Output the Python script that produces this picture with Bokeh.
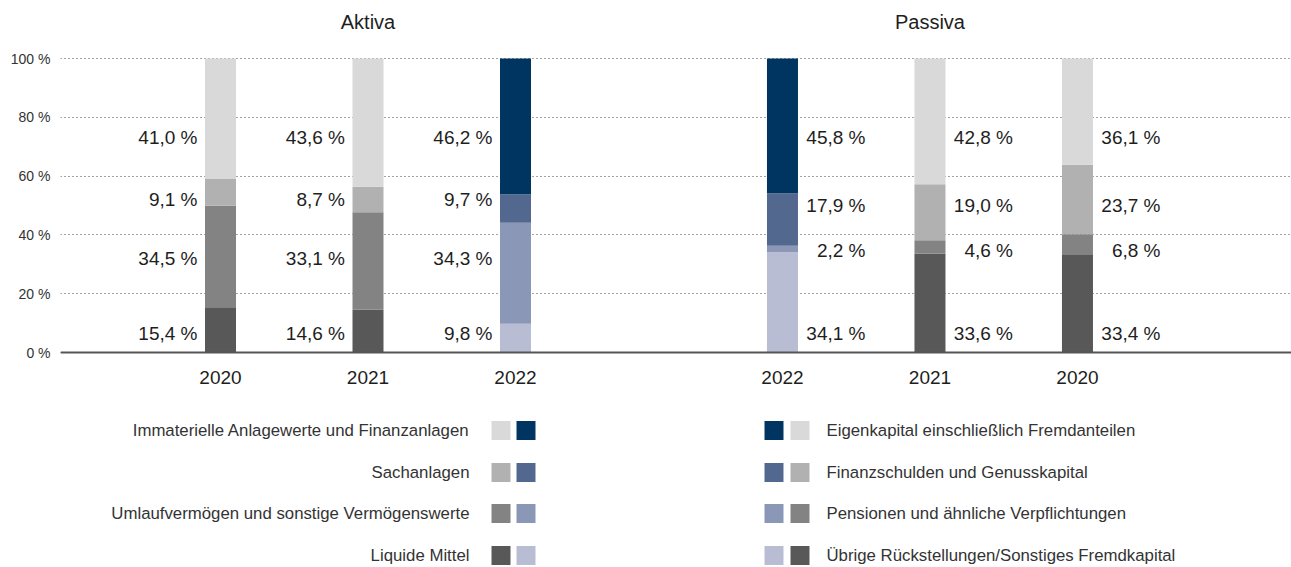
from bokeh.plotting import figure
from bokeh.models import Range1d, FixedTicker, Span
from bokeh.embed import file_html
from bokeh.resources import INLINE
from bokeh.core.properties import value

# ---------------- data ----------------
group_titles = ["Aktiva", "Passiva"]
aktiva_years = ["2020", "2021", "2022"]
passiva_years = ["2022", "2021", "2020"]

# stacking order: bottom -> top
aktiva_categories = [
    "Liquide Mittel",
    "Umlaufvermögen und sonstige Vermögenswerte",
    "Sachanlagen",
    "Immaterielle Anlagewerte und Finanzanlagen",
]
aktiva_liquide = [15.4, 14.6, 9.8]
aktiva_umlauf = [34.5, 33.1, 34.3]
aktiva_sach = [9.1, 8.7, 9.7]
aktiva_immat = [41.0, 43.6, 46.2]

passiva_categories = [
    "Übrige Rückstellungen/Sonstiges Fremdkapital",
    "Pensionen und ähnliche Verpflichtungen",
    "Finanzschulden und Genusskapital",
    "Eigenkapital einschließlich Fremdanteilen",
]
passiva_uebrige = [34.1, 33.6, 33.4]
passiva_pension = [2.2, 4.6, 6.8]
passiva_finanz = [17.9, 19.0, 23.7]
passiva_eigen = [45.8, 42.8, 36.1]

y_ticks = [0, 20, 40, 60, 80, 100]
highlight_year = "2022"

# ---------------- styles / layout ----------------
grey_shades = ["#585858", "#838383", "#b1b1b1", "#d9d9d9"]
blue_shades = ["#b8bdd4", "#8a97b6", "#52688f", "#003461"]
FONT = "Liberation Sans"
TEXT = "#1e1e1e"

W, H = 1291, 567
BORDER_L = 60
PX_X = 147.5          # px per x unit
PX_Y = 2.94           # px per percent
Y_ZERO_PX = 352
X0 = -160 / PX_X      # frame left
X1 = X0 + (W - BORDER_L) / PX_X
Y1 = 100 + 58 / PX_Y
Y0 = -(H - Y_ZERO_PX) / PX_Y
PASSIVA_OFFSET = 3.81
BAR_W = 31 / PX_X


def xd(px):  # canvas px -> data x
    return X0 + (px - BORDER_L) / PX_X


def yd(py):  # canvas px -> data y
    return (Y_ZERO_PX - py) / PX_Y


def fmt(v):
    return f"{v:.1f}".replace(".", ",") + " %"


p = figure(width=W, height=H, output_backend="svg", toolbar_location=None,
           x_range=Range1d(X0, X1), y_range=Range1d(Y0, Y1),
           x_axis_type=None, min_border_left=BORDER_L, min_border_right=0,
           min_border_top=0, min_border_bottom=0)
p.outline_line_color = None
p.background_fill_color = "white"
p.border_fill_color = "white"
p.xgrid.visible = False

yaxis = p.yaxis[0]
yaxis.ticker = FixedTicker(ticks=y_ticks)
yaxis.major_label_overrides = {t: f"{t} %" for t in y_ticks}
yaxis.axis_line_color = None
yaxis.major_tick_line_color = None
yaxis.minor_tick_line_color = None
yaxis.major_tick_out = 0
yaxis.major_label_standoff = 10
yaxis.major_label_text_font = FONT
yaxis.major_label_text_font_size = "14px"
yaxis.major_label_text_color = "#333333"

p.ygrid.ticker = FixedTicker(ticks=y_ticks)
p.ygrid.grid_line_color = "#444444"
p.ygrid.grid_line_dash = "1 3"
p.ygrid.grid_line_width = 1

groups = [
    (aktiva_years, [aktiva_liquide, aktiva_umlauf, aktiva_sach, aktiva_immat], 0.0,
     [6.6, 31.9, 51.9, 73.2], -23),
    (passiva_years, [passiva_uebrige, passiva_pension, passiva_finanz, passiva_eigen], PASSIVA_OFFSET,
     [6.6, 34.8, 50.0, 73.2], 83),
]

for years, series, offset, label_rows, lab_off in groups:
    xs = [i + offset for i in range(len(years))]
    bx, bb, bt, bc = [], [], [], []
    lx, ly, lt = [], [], []
    for i, yr in enumerate(years):
        shades = blue_shades if yr == highlight_year else grey_shades
        cum = 0.0
        for k, s in enumerate(series):
            bx.append(xs[i]); bb.append(cum); bt.append(cum + s[i]); bc.append(shades[k])
            lx.append(xs[i]); ly.append(label_rows[k]); lt.append(fmt(s[i]))
            cum += s[i]
    p.vbar(x=bx, bottom=bb, top=bt, width=BAR_W, fill_color=bc, line_color=None)
    p.text(x=lx, y=ly, text=lt, x_offset=lab_off, text_align="right", text_baseline="middle",
           text_font=value(FONT), text_font_size="19px", text_color=TEXT)
    p.text(x=xs, y=[yd(377)] * len(xs), text=years, text_align="center", text_baseline="middle",
           text_font=value(FONT), text_font_size="19px", text_color=TEXT)

# group titles
p.text(x=[1.0, 1.0 + PASSIVA_OFFSET], y=[yd(21)] * 2, text=group_titles,
       text_align="center", text_baseline="middle",
       text_font=value(FONT), text_font_size="20px", text_color=TEXT)

# zero axis line
p.add_layout(Span(location=0, dimension="width", line_color="#555555", line_width=2))

# ---------------- legend ----------------
rows_px = [430, 472, 513, 555]
leg_y = [yd(r) for r in rows_px]
akt_top_down = aktiva_categories[::-1]
pas_top_down = passiva_categories[::-1]
grey_td = grey_shades[::-1]
blue_td = blue_shades[::-1]

p.text(x=[xd(469)] * 4, y=leg_y, text=akt_top_down, text_align="right", text_baseline="middle",
       text_font=value(FONT), text_font_size="16.8px", text_color="#333333")
p.scatter(x=[xd(500.5)] * 4, y=leg_y, marker="square", size=19, fill_color=grey_td, line_color=None)
p.scatter(x=[xd(525.5)] * 4, y=leg_y, marker="square", size=19, fill_color=blue_td, line_color=None)

p.scatter(x=[xd(773.5)] * 4, y=leg_y, marker="square", size=19, fill_color=blue_td, line_color=None)
p.scatter(x=[xd(799.5)] * 4, y=leg_y, marker="square", size=19, fill_color=grey_td, line_color=None)
p.text(x=[xd(826)] * 4, y=leg_y, text=pas_top_down, text_align="left", text_baseline="middle",
       text_font=value(FONT), text_font_size="16.8px", text_color="#333333")

open("out.html", "w").write(file_html(p, INLINE))
